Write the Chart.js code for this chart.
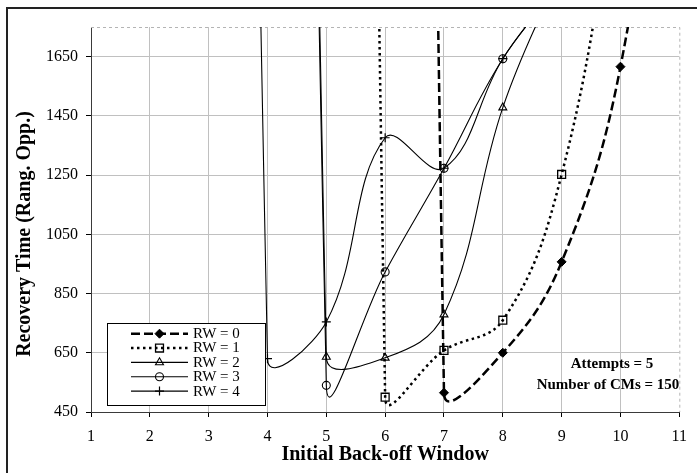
<!DOCTYPE html>
<html>
<head>
<meta charset="utf-8">
<script src="https://cdn.jsdelivr.net/npm/chart.js@4.4.0/dist/chart.umd.min.js"></script>
<style>
    html, body { margin: 0; padding: 0; background: #fff; }
    #recoveryChart { display: block; }
</style>
</head>
<body>
<canvas id="recoveryChart" width="697" height="473"></canvas>
<script>
// initial back-off window on the x axis
const backoffWindow = [3, 4, 5, 6, 7, 8, 9, 10, 11];

// recovery time (ranging opportunities) per RW value, null = not measured.
// the big first values sit far above the axis and give the steep drops
const rw0 = [null, null, null, 25000, 515, 650, 957, 1616, 3000];
const rw1 = [null, null, 25000, 500, 658, 760, 1252, 2300, null];
const rw2 = [null, 20000, 636, 633, 779, 1478, 1950, null, null];
const rw3 = [null, 20000, 540, 923, 1273, 1643, 1900, null, null];
const rw4 = [20000, 630, 754, 1376, 1273, 1643, 1900, null, null];

const seriesLabels = ['RW = 0', 'RW = 1', 'RW = 2', 'RW = 3', 'RW = 4'];
const xTicks = [1, 2, 3, 4, 5, 6, 7, 8, 9, 10, 11];
const yTicks = [450, 650, 850, 1050, 1250, 1450, 1650];
const notes = ['Attempts = 5', 'Number of CMs = 150'];

const serif = '"Liberation Serif", "Times New Roman", serif';
Chart.defaults.font.family = serif;
Chart.defaults.color = '#000';

function toPoints(values) {
    return backoffWindow
        .map((x, i) => ({ x: x, y: values[i] }))
        .filter((p) => p.y !== null);
}

function serie(label, values, style) {
    return Object.assign({
        label: label,
        data: toPoints(values),
        borderColor: '#000',
        pointBorderColor: '#000',
        pointBackgroundColor: 'rgba(0,0,0,0)',
        tension: 0.4,
        capBezierPoints: false,
        fill: false
    }, style);
}

// dashed gray frame on top/right of the plot, like the old spreadsheet look
const plotFrame = {
    id: 'plotFrame',
    beforeDatasetsDraw(chart) {
        const { ctx, chartArea } = chart;
        ctx.save();
        ctx.strokeStyle = '#b4b4b4';
        ctx.lineWidth = 1;
        ctx.setLineDash([3, 3]);
        ctx.beginPath();
        ctx.moveTo(chartArea.left, Math.round(chartArea.top) + 0.5);
        ctx.lineTo(chartArea.right + 0.5, Math.round(chartArea.top) + 0.5);
        ctx.lineTo(chartArea.right + 0.5, chartArea.bottom);
        ctx.stroke();
        ctx.restore();
    }
};

// legend box, y title, notes and outer border
const extras = {
    id: 'extras',
    afterDraw(chart) {
        const ctx = chart.ctx;
        ctx.save();

        // outer border
        ctx.strokeStyle = '#222';
        ctx.lineWidth = 2;
        ctx.beginPath();
        ctx.moveTo(7, 480);
        ctx.lineTo(7, 8);
        ctx.lineTo(700, 8);
        ctx.stroke();

        // y axis title
        ctx.save();
        ctx.translate(25, 234);
        ctx.rotate(-Math.PI / 2);
        ctx.font = 'bold 20px ' + serif;
        ctx.textAlign = 'center';
        ctx.textBaseline = 'middle';
        ctx.fillStyle = '#000';
        ctx.fillText('Recovery Time (Rang. Opp.)', 0, 0);
        ctx.restore();

        // notes
        ctx.font = 'bold 15px ' + serif;
        ctx.textAlign = 'center';
        ctx.textBaseline = 'middle';
        ctx.fillStyle = '#000';
        ctx.fillText(notes[0], 612, 364);
        ctx.fillText(notes[1], 608, 385);

        // legend
        ctx.fillStyle = '#fff';
        ctx.fillRect(107.5, 323.5, 158, 82);
        ctx.strokeStyle = '#000';
        ctx.lineWidth = 1;
        ctx.strokeRect(107.5, 323.5, 158, 82);

        chart.data.datasets.forEach((ds, i) => {
            const y = 333.7 + i * 14.35;
            ctx.save();
            ctx.strokeStyle = '#000';
            ctx.lineWidth = ds.borderWidth;
            ctx.setLineDash(ds.borderDash || []);
            ctx.beginPath();
            ctx.moveTo(131, y);
            ctx.lineTo(188, y);
            ctx.stroke();
            ctx.setLineDash([]);
            ctx.strokeStyle = ds.pointBorderColor;
            ctx.fillStyle = ds.pointBackgroundColor;
            ctx.lineWidth = ds.pointBorderWidth;
            Chart.helpers.drawPoint(ctx, {
                pointStyle: ds.pointStyle,
                radius: ds.pointRadius,
                rotation: 0,
                borderWidth: ds.pointBorderWidth
            }, 159.5, y);
            ctx.restore();

            ctx.fillStyle = '#000';
            ctx.font = '15px ' + serif;
            ctx.textAlign = 'left';
            ctx.textBaseline = 'middle';
            ctx.fillText(ds.label, 193, y + 0.5);
        });

        ctx.restore();
    }
};

const chartCanvas = document.getElementById('recoveryChart');

const recoveryChart = new Chart(chartCanvas, {
    type: 'line',
    data: {
        datasets: [
            serie(seriesLabels[0], rw0, {
                borderWidth: 2.5, borderDash: [9, 4],
                pointStyle: 'rectRot', pointRadius: 4.5,
                pointBackgroundColor: '#000', pointBorderWidth: 1
            }),
            serie(seriesLabels[1], rw1, {
                borderWidth: 2.5, borderDash: [2.5, 3.5],
                pointStyle: 'rect', pointRadius: 5.6, pointBorderWidth: 1.3
            }),
            serie(seriesLabels[2], rw2, {
                borderWidth: 1.1,
                pointStyle: 'triangle', pointRadius: 4.6, pointBorderWidth: 1.1
            }),
            serie(seriesLabels[3], rw3, {
                borderWidth: 1.1,
                pointStyle: 'circle', pointRadius: 4, pointBorderWidth: 1.1
            }),
            serie(seriesLabels[4], rw4, {
                borderWidth: 1.1,
                pointStyle: 'cross', pointRadius: 4.5, pointBorderWidth: 1.2
            })
        ]
    },
    options: {
        responsive: false,
        animation: false,
        devicePixelRatio: 1,
        layout: { padding: { left: 0, top: 27, right: 7, bottom: 0 } },
        plugins: {
            legend: { display: false },
            tooltip: { enabled: false }
        },
        scales: {
            x: {
                type: 'linear',
                min: 1,
                max: 11,
                afterBuildTicks: (scale) => { scale.ticks = xTicks.map((v) => ({ value: v })); },
                afterFit: (scale) => { scale.height = 61; },
                ticks: { font: { size: 16 }, padding: 10, maxRotation: 0, callback: (v) => String(v) },
                grid: {
                    color: (c) => (c.tick && c.tick.value === 11) ? 'rgba(0,0,0,0)' : '#c0c0c0',
                    tickColor: '#000',
                    tickLength: 5
                },
                border: { color: '#3a3a3a', width: 1 },
                title: {
                    display: true,
                    text: 'Initial Back-off Window',
                    font: { size: 20, weight: 'bold' },
                    padding: { top: 0, bottom: 6 }
                }
            },
            y: {
                min: 450,
                max: 1750,
                afterBuildTicks: (scale) => { scale.ticks = yTicks.map((v) => ({ value: v })); },
                afterFit: (scale) => { scale.width = 91; },
                ticks: { font: { size: 16 }, padding: 8, callback: (v) => String(v) },
                grid: { color: '#c0c0c0', tickColor: '#000', tickLength: 5 },
                border: { color: '#3a3a3a', width: 1 }
            }
        }
    },
    plugins: [plotFrame, extras]
});
</script>
</body>
</html>
